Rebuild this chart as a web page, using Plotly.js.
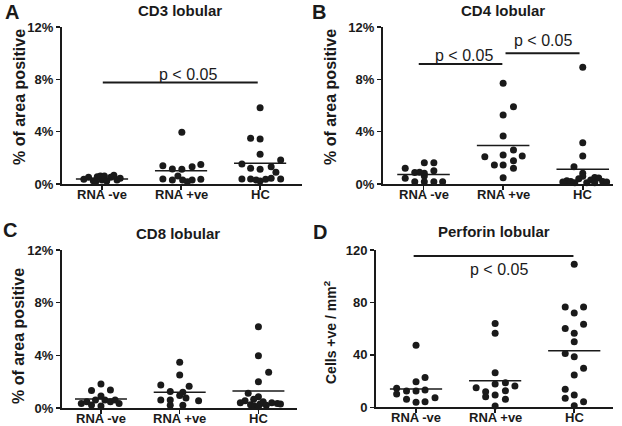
<!DOCTYPE html>
<html>
<head>
<meta charset="utf-8">
<script src="https://cdn.plot.ly/plotly-3.0.1.min.js"></script>
<style>html,body{margin:0;padding:0;background:#fff;}#chart{width:622px;height:426px;}</style>
</head>
<body>
<div id="chart"></div>
<script>
// ---------- data ----------
const groups = ['RNA -ve', 'RNA +ve', 'HC'];

// Panel A: CD3 lobular (% of area positive)
const cd3Neg  = [0.36, 0.51, 0.25, 0.56, 0.61, 0.31, 0.61, 0.23, 0.51, 0.66, 0.31, 0.43, 0.18];
const cd3NegX = [-0.23, -0.17, -0.11, -0.06, -0.02, 0, 0.03, 0.06, 0.11, 0.15, 0.19, 0.23, -0.08];
const cd3Pos  = [3.95, 1.40, 1.15, 1.12, 1.32, 1.50, 0.38, 0.31, 0.61, 0.31, 0.18, 0.31, 0.36];
const cd3PosX = [0.01, -0.23, -0.11, 0.01, 0.14, 0.25, -0.23, -0.11, -0.04, 0.02, 0.08, 0.14, 0.25];
const cd3HC   = [5.83, 3.49, 3.44, 2.27, 1.53, 1.83, 1.20, 1.12, 1.32, 0.89, 0.38, 0.38, 0.31, 0.23, 0.36, 0.43, 0.38];
const cd3HCX  = [0, -0.12, 0, 0, -0.23, 0.26, -0.12, 0, 0.14, 0.20, -0.23, -0.12, -0.05, 0, 0.07, 0.14, 0.26];
const cd3Means = [0.38, 1.02, 1.58];
const cd3Sig = [[0.01, 1.97, 7.75, 1.09, 8.40]]; // from, to, bar level, label x, label y

// Panel B: CD4 lobular
const cd4Neg  = [1.20, 0.87, 0.82, 1.02, 1.63, 1.63, 0.43, 0.18, 0.61, 0.18, 0.18, 0.18, 0.90];
const cd4NegX = [-0.23, -0.11, 0.01, 0.13, 0.01, 0.13, -0.23, -0.11, 0.01, 0.01, 0.13, 0.24, -0.05];
const cd4Pos  = [7.70, 5.91, 5.27, 3.67, 2.09, 2.22, 2.60, 2.14, 1.45, 1.45, 1.78, 1.20, 0.48];
const cd4PosX = [0, 0.13, 0, 0, -0.23, 0, 0.13, 0.24, -0.11, 0, 0.13, 0.13, 0];
const cd4HC   = [8.92, 3.16, 2.14, 1.32, 0.82, 0.60, 0.50, 0.45, 0.40, 0.30, 0.25, 0.20, 0.15, 0.15, 0.10, 0.10, 0.10, 0.20];
const cd4HCX  = [0, 0, 0, -0.11, 0, 0, 0.15, 0.20, -0.05, 0.10, -0.20, 0.25, 0.30, -0.25, 0.05, -0.10, 0.15, -0.15];
const cd4Means = [0.72, 2.95, 1.12];
const cd4Sig = [[-0.06, 0.99, 9.17, 0.51, 9.80], [1.03, 1.96, 9.99, 1.50, 10.95]];

// Panel C: CD8 lobular
const cd8Neg  = [1.82, 1.32, 1.37, 0.91, 0.35, 0.48, 0.61, 0.61, 0.48, 0.61, 0.35, 0.23, 0.15];
const cd8NegX = [0, -0.12, 0.12, 0, -0.25, -0.18, -0.07, 0.05, 0.12, 0.18, 0.23, -0.12, 0];
const cd8Pos  = [3.47, 2.50, 1.75, 1.65, 1.25, 1.20, 0.95, 0.60, 0.60, 0.75, 0.55, 0.20, 0.20];
const cd8PosX = [0, 0, -0.24, 0.12, -0.12, 0.04, 0, -0.24, -0.12, 0.08, 0.24, -0.12, 0.04];
const cd8HC   = [6.17, 3.97, 2.71, 2.00, 1.12, 0.86, 0.66, 0.56, 0.48, 0.40, 0.35, 0.40, 0.30, 0.25, 0.20, 0.15, 0.10, 0.30];
const cd8HCX  = [0, 0, 0.13, 0, -0.13, 0, -0.06, -0.17, 0.06, -0.23, 0.24, 0.17, 0.02, -0.10, 0.10, -0.05, 0, 0.28];
const cd8Means = [0.68, 1.19, 1.29];

// Panel D: Perforin lobular (cells +ve / mm²)
const perNeg  = [47.4, 22.8, 19.5, 14.5, 12.4, 12.4, 13.2, 10.1, 6.1, 3.8, 4.3, 7.3];
const perNegX = [0, 0.114, 0, -0.245, -0.12, 0, 0.114, -0.245, -0.12, 0, 0.114, 0.24];
const perPos  = [64.0, 56.4, 26.4, 14.9, 11.9, 8.1, 17.7, 9.4, 1.0, 18.7, 16.2, 12.7, 6.1];
const perPosX = [0, 0, 0, -0.24, -0.12, -0.12, 0, 0, 0, 0.13, 0.25, 0.13, 0.13];
const perHC   = [109.1, 76.6, 76.6, 72.0, 60.2, 63.4, 56.4, 50.0, 41.1, 38.5, 29.7, 24.6, 13.7, 6.9, 9.4, 4.3, 1.2];
const perHCX  = [0, -0.114, 0.118, 0, -0.114, 0.118, 0, 0, -0.114, 0, 0.118, 0, -0.114, -0.114, 0, 0.118, 0];
const perMeans = [13.9, 20.3, 43.1];
const perSig = [[-0.03, 1.99, 115.5, 1.05, 105.3]];

const pctTicks = [0, 4, 8, 12];
const pctLabels = ['0%', '4%', '8%', '12%'];
const cellTicks = [0, 40, 80, 120];
const cellLabels = ['0', '40', '80', '120'];

// ---------- build ----------
const INK = '#1a1a1a';
const FONT = 'Liberation Sans, Arial, sans-serif';
const W = 622, H = 426;
const traces = [];
const annotations = [];

function addPanel(ax, sets, means, sigs, axisPx) {
  const xa = 'x' + ax, ya = 'y' + ax;
  sets.forEach((s, g) => {
    traces.push({
      type: 'scatter', mode: 'markers', xaxis: xa, yaxis: ya, cliponaxis: false,
      x: s[1].map(o => g + o), y: s[0],
      marker: {size: 7, color: INK}, hoverinfo: 'y'
    });
    traces.push({
      type: 'scatter', mode: 'lines', xaxis: xa, yaxis: ya, cliponaxis: false,
      x: [g - 0.33, g + 0.33], y: [means[g], means[g]],
      line: {color: INK, width: 1.5}, hoverinfo: 'skip'
    });
    // category label under the axis
    annotations.push({
      xref: xa, yref: 'paper', x: g, y: 1 - (axisPx + 10) / H, text: groups[g],
      showarrow: false, xanchor: 'center', yanchor: 'middle',
      font: {family: FONT, size: 13, color: INK, weight: 'bold'}
    });
  });
  (sigs || []).forEach(s => {
    traces.push({
      type: 'scatter', mode: 'lines', xaxis: xa, yaxis: ya, cliponaxis: false,
      x: [s[0], s[1]], y: [s[2], s[2]],
      line: {color: INK, width: 2}, hoverinfo: 'skip'
    });
    annotations.push({
      xref: xa, yref: ya, x: s[3], y: s[4], text: 'p < 0.05', showarrow: false,
      xanchor: 'center', yanchor: 'middle',
      font: {family: FONT, size: 16, color: INK}
    });
  });
}

addPanel('', [[cd3Neg, cd3NegX], [cd3Pos, cd3PosX], [cd3HC, cd3HCX]], cd3Means, cd3Sig, 184);
addPanel('2', [[cd4Neg, cd4NegX], [cd4Pos, cd4PosX], [cd4HC, cd4HCX]], cd4Means, cd4Sig, 184);
addPanel('3', [[cd8Neg, cd8NegX], [cd8Pos, cd8PosX], [cd8HC, cd8HCX]], cd8Means, null, 408);
addPanel('4', [[perNeg, perNegX], [perPos, perPosX], [perHC, perHCX]], perMeans, perSig, 407.3);

function xAxis(px0, px1, range, anchor) {
  return {
    domain: [px0 / W, px1 / W], range: range, anchor: anchor,
    tickvals: [0, 1, 2], ticktext: groups, showticklabels: false,
    showline: true, linewidth: 2, linecolor: INK, mirror: false,
    ticks: 'outside', ticklen: 4, tickwidth: 1.5, tickcolor: INK,
    showgrid: false, zeroline: false, fixedrange: true
  };
}
function yAxis(py0, py1, range, tv, tt, anchor) {
  return {
    domain: [1 - py0 / H, 1 - py1 / H], range: range, anchor: anchor,
    tickvals: tv, ticktext: tt,
    showline: true, linewidth: 2, linecolor: INK,
    ticks: 'outside', ticklen: 4, tickwidth: 1.5, tickcolor: INK,
    showgrid: false, zeroline: false, fixedrange: true,
    tickfont: {family: FONT, size: 13, color: INK, weight: 'bold'}
  };
}

function paperText(px, py, text, size, bold, angle) {
  annotations.push({
    xref: 'paper', yref: 'paper', x: px / W, y: 1 - py / H, text: text,
    showarrow: false, xanchor: 'center', yanchor: 'middle', textangle: angle || 0,
    font: {family: FONT, size: size, color: INK, weight: bold ? 'bold' : 'normal'}
  });
}
// panel titles
paperText(180, 10, 'CD3 lobular', 15, true);
paperText(503, 10, 'CD4 lobular', 15, true);
paperText(178, 233, 'CD8 lobular', 15, true);
paperText(494, 231, 'Perforin lobular', 15, true);
// panel letters
paperText(12, 12, 'A', 20, true);
paperText(319, 12, 'B', 20, true);
paperText(10, 230, 'C', 20, true);
paperText(320, 232, 'D', 20, true);
// y titles
paperText(19, 97, '% of area positive', 16, true, -90);
paperText(330, 97, '% of area positive', 16, true, -90);
paperText(18, 336, '% of area positive', 16, true, -90);
paperText(330, 332, 'Cells +ve / mm<sup>2</sup>', 14, true, -90);

const layout = {
  width: W, height: H, margin: {l: 0, r: 0, t: 0, b: 0},
  paper_bgcolor: '#fff', plot_bgcolor: 'rgba(0,0,0,0)', showlegend: false,
  xaxis: xAxis(62, 302, [-0.506, 2.53], 'y'),
  yaxis: yAxis(184, 27, [0, 12], pctTicks, pctLabels, 'x'),
  xaxis2: xAxis(383, 613, [-0.509, 2.38], 'y2'),
  yaxis2: yAxis(184, 27, [0, 12], pctTicks, pctLabels, 'x2'),
  xaxis3: xAxis(62, 297, [-0.495, 2.49], 'y3'),
  yaxis3: yAxis(408, 250, [0, 12], pctTicks, pctLabels, 'x3'),
  xaxis4: xAxis(376, 613, [-0.506, 2.49], 'y4'),
  yaxis4: yAxis(407.3, 250, [0, 120], cellTicks, cellLabels, 'x4'),
  annotations: annotations
};

Plotly.newPlot('chart', traces, layout, {displayModeBar: false, staticPlot: true});
</script>
</body>
</html>
